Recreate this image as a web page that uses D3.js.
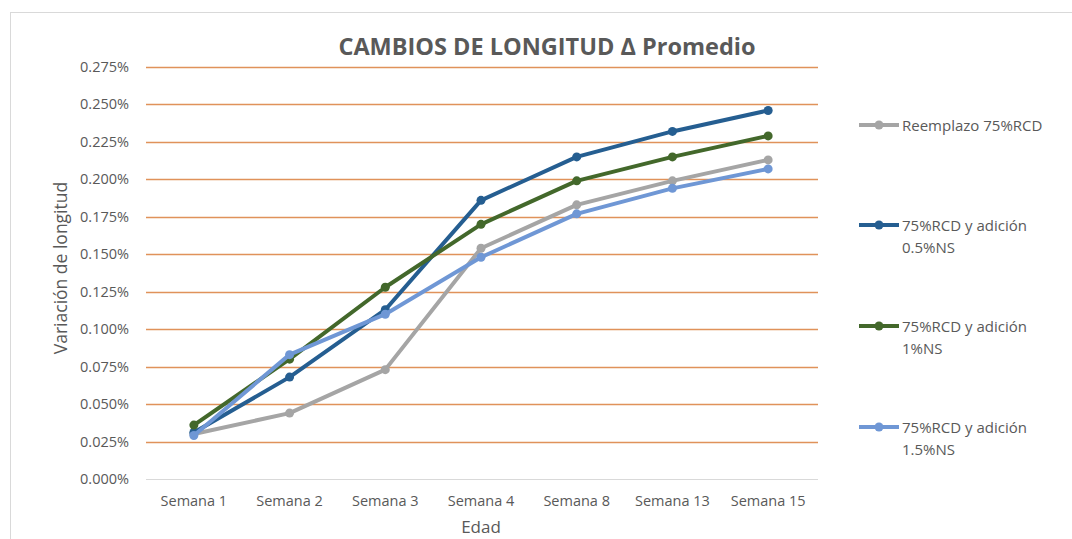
<!DOCTYPE html>
<html>
<head>
<meta charset="utf-8">
<script src="https://cdn.jsdelivr.net/npm/d3@7"></script>
<style>
  body { margin: 0; background: #fff; }
  text { font-family: "Open Sans", sans-serif; }
</style>
</head>
<body>
<div class="canvas"></div>
<script>
const categories = ["Semana 1", "Semana 2", "Semana 3", "Semana 4", "Semana 8", "Semana 13", "Semana 15"];
const seriesNames = [
  ["Reemplazo 75%RCD"],
  ["75%RCD y adición", "0.5%NS"],
  ["75%RCD y adición", "1%NS"],
  ["75%RCD y adición", "1.5%NS"]
];
// values in %
const reemplazo = [0.030, 0.044, 0.073, 0.154, 0.183, 0.199, 0.213];
const ns05 = [0.031, 0.068, 0.113, 0.186, 0.215, 0.232, 0.246];
const ns1 = [0.036, 0.080, 0.128, 0.170, 0.199, 0.215, 0.229];
const ns15 = [0.029, 0.083, 0.110, 0.148, 0.177, 0.194, 0.207];
const yTicks = [0, 0.025, 0.05, 0.075, 0.1, 0.125, 0.15, 0.175, 0.2, 0.225, 0.25, 0.275];
const colors = ["#a5a5a5", "#255e91", "#43682b", "#6f97d5"];

const series = [reemplazo, ns05, ns1, ns15];

const svg = d3.select(".canvas").append("svg").attr("width", 1072).attr("height", 539);

// chart frame
svg.append("rect")
  .attr("x", 10.5).attr("y", 12.5)
  .attr("width", 1100).attr("height", 600)
  .attr("fill", "none").attr("stroke", "#d9d9d9");

const x = d3.scaleBand().domain(categories).range([146, 816]);
const y = d3.scaleLinear().domain([0, 0.275]).range([479, 67]);

// gridlines
svg.append("g")
  .selectAll("line")
  .data(yTicks)
  .enter()
  .append("line")
  .attr("x1", 146).attr("x2", 818)
  .attr("y1", (d) => Math.round(y(d)) + 0.5)
  .attr("y2", (d) => Math.round(y(d)) + 0.5)
  .attr("stroke", (d) => (d === 0 ? "#d9d9d9" : "#e0925a"))
  .attr("stroke-width", (d) => (d === 0 ? 1 : 1.3));

// y tick labels
svg.append("g")
  .selectAll("text")
  .data(yTicks)
  .enter()
  .append("text")
  .attr("x", 129)
  .attr("y", (d) => y(d) + 5)
  .attr("text-anchor", "end")
  .attr("fill", "#595959")
  .style("font-size", "14.5px")
  .text((d) => d.toFixed(3) + "%");

// x tick labels
svg.append("g")
  .selectAll("text")
  .data(categories)
  .enter()
  .append("text")
  .attr("x", (d) => x(d) + x.bandwidth() / 2)
  .attr("y", 506)
  .attr("text-anchor", "middle")
  .attr("fill", "#595959")
  .style("font-size", "14.5px")
  .text((d) => d);

// title
svg.append("text")
  .attr("x", 547).attr("y", 55)
  .attr("text-anchor", "middle")
  .attr("fill", "#595959")
  .style("font-size", "23.5px")
  .style("font-weight", "bold")
  .text("CAMBIOS DE LONGITUD Δ Promedio");

// axis titles
svg.append("text")
  .attr("transform", "translate(67,268) rotate(-90)")
  .attr("text-anchor", "middle")
  .attr("fill", "#595959")
  .style("font-size", "17.5px")
  .text("Variación de longitud");

svg.append("text")
  .attr("x", 481).attr("y", 533)
  .attr("text-anchor", "middle")
  .attr("fill", "#595959")
  .style("font-size", "17px")
  .text("Edad");

const line = d3.line()
  .x((d, i) => x(categories[i]) + x.bandwidth() / 2)
  .y((d) => y(d));

// lines and markers
series.forEach((vals, s) => {
  const g = svg.append("g");
  g.append("path")
    .attr("d", line(vals))
    .attr("fill", "none")
    .attr("stroke", colors[s])
    .attr("stroke-width", 4)
    .attr("stroke-linejoin", "round")
    .attr("stroke-linecap", "round");
  g.selectAll("circle")
    .data(vals)
    .enter()
    .append("circle")
    .attr("cx", (d, i) => x(categories[i]) + x.bandwidth() / 2)
    .attr("cy", (d) => y(d))
    .attr("r", 4.5)
    .attr("fill", colors[s]);
});

// legend
const legendY = [125, 225, 326, 427];
const legend = svg.append("g");
seriesNames.forEach((name, s) => {
  const ly = legendY[s];
  legend.append("line")
    .attr("x1", 859).attr("x2", 899)
    .attr("y1", ly).attr("y2", ly)
    .attr("stroke", colors[s]).attr("stroke-width", 4);
  legend.append("circle")
    .attr("cx", 879).attr("cy", ly).attr("r", 4.5)
    .attr("fill", colors[s]);
  name.forEach((t, k) => {
    legend.append("text")
      .attr("x", 902).attr("y", ly + 5.5 + k * 22)
      .attr("fill", "#595959")
      .style("font-size", "15px")
      .text(t);
  });
});
</script>
</body>
</html>
